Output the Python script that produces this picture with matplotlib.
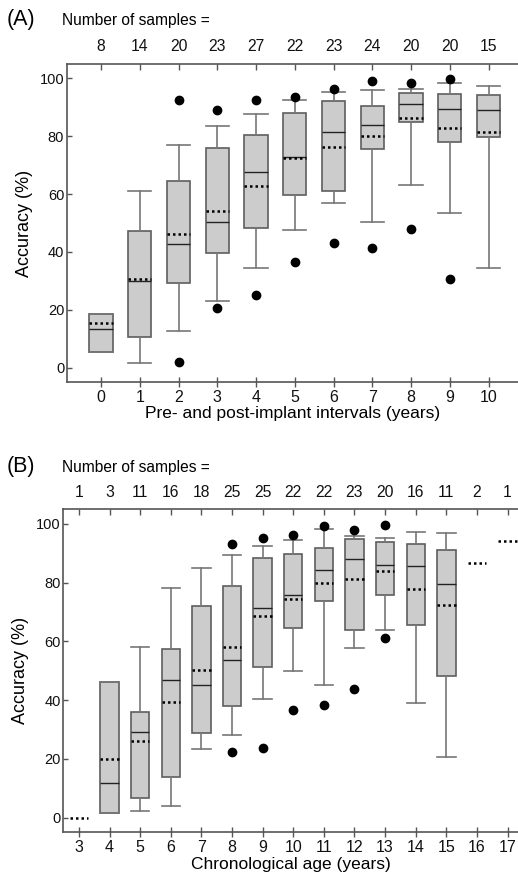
import matplotlib
matplotlib.use("Agg")
import matplotlib.pyplot as plt

plt.rcParams['font.family'] = ['Liberation Sans', 'DejaVu Sans']

# ---- panel A: pre- and post-implant intervals ----
a_pos = [0, 1, 2, 3, 4, 5, 6, 7, 8, 9, 10]
a_n = [8, 14, 20, 23, 27, 22, 23, 24, 20, 20, 15]
a_q1 = [5.4, 10.7, 29.2, 39.5, 48.3, 59.8, 61.0, 75.5, 84.9, 78.1, 79.6]
a_med = [13.2, 29.8, 42.7, 50.5, 67.7, 72.8, 81.6, 84.0, 91.3, 89.5, 89.0]
a_q3 = [18.7, 47.4, 64.5, 75.8, 80.6, 88.2, 92.3, 90.6, 95.1, 94.6, 94.2]
a_lo = [5.4, 1.6, 12.8, 23.0, 34.4, 47.5, 56.8, 50.4, 63.1, 53.5, 34.5]
a_hi = [18.7, 61.0, 77.0, 83.6, 87.6, 92.6, 95.4, 96.0, 96.2, 98.3, 97.4]
a_mean = [15.5, 30.7, 46.3, 54.3, 62.9, 72.6, 76.3, 80.2, 86.4, 82.8, 81.4]
a_out = [[], [], [92.6, 1.9], [89.2, 20.7], [92.6, 25.0], [93.7, 36.4],
         [96.2, 43.2], [99.1, 41.2], [98.4, 47.9], [99.8, 30.5], []]

# ---- panel B: chronological age ----
b_pos = [3, 4, 5, 6, 7, 8, 9, 10, 11, 12, 13, 14, 15, 16, 17]
b_n = [1, 3, 11, 16, 18, 25, 25, 22, 22, 23, 20, 16, 11, 2, 1]
b_q1 = [None, 1.7, 6.8, 14.0, 28.7, 38.0, 51.2, 64.7, 73.7, 63.8, 75.7, 65.6, 48.1, None, None]
b_med = [None, 11.7, 29.1, 46.7, 45.1, 53.6, 71.5, 75.8, 84.2, 88.2, 86.0, 85.7, 79.6, None, None]
b_q3 = [None, 46.3, 35.8, 57.4, 72.1, 78.8, 88.5, 89.6, 91.8, 94.8, 93.8, 93.1, 91.3, None, None]
b_lo = [None, 1.7, 2.3, 4.1, 23.5, 28.0, 40.3, 49.8, 45.1, 57.7, 63.9, 39.2, 20.5, None, None]
b_hi = [None, 46.3, 58.2, 78.1, 84.9, 89.4, 92.5, 94.4, 98.2, 95.8, 95.3, 97.2, 96.8, None, None]
b_mean = [0.0, 19.9, 26.2, 39.5, 50.2, 58.0, 68.7, 74.3, 80.0, 81.2, 84.0, 78.0, 72.5, 86.7, 94.2]
b_out = [[], [], [], [], [], [93.2, 22.2], [95.3, 23.7], [96.1, 36.8], [99.3, 38.4],
         [98.1, 43.8], [99.5, 61.3], [], [], [], []]

BOX_FACE = '#cccccc'
BOX_EDGE = '#5e5e5e'
WHISK = '#777777'
SPINE = '#555555'
W = 0.6
DOTS = (0, (1, 1.2))


def draw_panel(ax, pos, n, q1, med, q3, lo, hi, mean, out, xlim, xlabel):
    stats, spos, lone = [], [], []
    for i, p in enumerate(pos):
        if q1[i] is None:
            lone.append((p, mean[i]))
            continue
        stats.append(dict(q1=q1[i], med=med[i], q3=q3[i], whislo=lo[i],
                          whishi=hi[i], mean=mean[i], fliers=out[i]))
        spos.append(p)
    ax.bxp(stats, positions=spos, widths=W, capwidths=W, patch_artist=True,
           showmeans=True, meanline=True,
           boxprops=dict(facecolor=BOX_FACE, edgecolor=BOX_EDGE, linewidth=1.2),
           medianprops=dict(color='#222222', linewidth=1.0),
           whiskerprops=dict(color=WHISK, linewidth=1.2),
           capprops=dict(color=WHISK, linewidth=1.2),
           meanprops=dict(color='black', linestyle=DOTS, linewidth=1.8),
           flierprops=dict(marker='o', markerfacecolor='black', markeredgecolor='black',
                           markersize=6))
    for p, m in lone:
        ax.hlines(m, p - W / 2, p + W / 2, colors='black', linestyles=[DOTS],
                  linewidth=1.8)

    ax.set_xlim(*xlim)
    ax.set_ylim(-5, 105)
    ax.set_yticks([0, 20, 40, 60, 80, 100])
    ax.set_xticks(pos)
    ax.set_xticklabels([str(p) for p in pos])
    for s in ['left', 'bottom', 'top']:
        ax.spines[s].set_color(SPINE)
        ax.spines[s].set_linewidth(1.2)
    ax.spines['right'].set_visible(False)
    ax.tick_params(axis='y', direction='in', length=3.5, width=1.0, colors=SPINE,
                   labelcolor='#111111', labelsize=10.5, pad=2)
    ax.tick_params(axis='x', direction='inout', length=6.5, width=1.0, colors=SPINE,
                   labelcolor='#111111', labelsize=11.5, pad=2.5)
    ax.set_ylabel('Accuracy (%)', fontsize=13, labelpad=5)
    ax.set_xlabel(xlabel, fontsize=12.5, labelpad=1)

    top = ax.secondary_xaxis('top')
    top.set_xticks(pos)
    top.set_xticklabels([str(v) for v in n])
    top.spines['top'].set_visible(False)
    top.tick_params(direction='in', length=4, width=1.0, colors=SPINE,
                    labelcolor='#111111', labelsize=11.3, pad=7)


fig = plt.figure(figsize=(5.18, 8.88), dpi=100)
axA = fig.add_axes([0.1293, 0.5698, 0.8707, 0.3581])
axB = fig.add_axes([0.1222, 0.0627, 0.8778, 0.3638])

draw_panel(axA, a_pos, a_n, a_q1, a_med, a_q3, a_lo, a_hi, a_mean, a_out,
           (-0.88, 10.76), 'Pre- and post-implant intervals (years)')
draw_panel(axB, b_pos, b_n, b_q1, b_med, b_q3, b_lo, b_hi, b_mean, b_out,
           (2.49, 17.34), 'Chronological age (years)')

fig.text(7 / 518, 1 - 19 / 888, '(A)', fontsize=15.5, va='center', ha='left')
fig.text(62 / 518, 1 - 20 / 888, 'Number of samples =', fontsize=11.2, va='center', ha='left')
fig.text(7 / 518, 1 - 466 / 888, '(B)', fontsize=15.5, va='center', ha='left')
fig.text(62 / 518, 1 - 467 / 888, 'Number of samples =', fontsize=11.2, va='center', ha='left')

fig.savefig('out.png', dpi=100)
